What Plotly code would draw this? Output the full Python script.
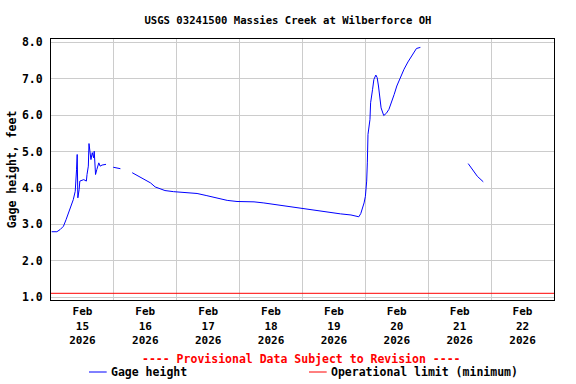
import plotly.graph_objects as go

# ---- data ----
times = [
    "2026-02-15 00:15", "2026-02-15 02:15", "2026-02-15 03:30", "2026-02-15 04:45",
    "2026-02-15 05:45", "2026-02-15 07:15", "2026-02-15 08:30", "2026-02-15 09:15",
    "2026-02-15 09:30", "2026-02-15 09:45", "2026-02-15 10:00", "2026-02-15 10:15",
    "2026-02-15 10:45", "2026-02-15 11:00", "2026-02-15 12:30", "2026-02-15 13:30",
    "2026-02-15 13:45", "2026-02-15 14:15", "2026-02-15 14:30", "2026-02-15 14:45",
    "2026-02-15 15:15", "2026-02-15 15:45", "2026-02-15 16:15", "2026-02-15 16:30",
    "2026-02-15 17:00", "2026-02-15 17:30", "2026-02-15 18:15", "2026-02-15 18:45",
    "2026-02-15 19:30", "2026-02-15 21:00", "2026-02-15 22:00",
    "2026-02-15 23:45", "2026-02-16 01:00", "2026-02-16 02:30", "2026-02-16 04:00",
    "2026-02-16 07:00", "2026-02-16 11:15", "2026-02-16 14:00", "2026-02-16 15:45",
    "2026-02-16 17:45", "2026-02-16 19:30", "2026-02-16 22:45", "2026-02-17 04:30",
    "2026-02-17 07:45", "2026-02-17 11:30", "2026-02-17 15:30", "2026-02-17 19:15",
    "2026-02-17 23:00", "2026-02-18 05:30", "2026-02-18 09:15", "2026-02-18 13:00",
    "2026-02-18 18:15", "2026-02-18 23:15", "2026-02-19 03:00", "2026-02-19 09:30",
    "2026-02-19 14:30", "2026-02-19 18:30", "2026-02-19 20:45", "2026-02-19 21:30",
    "2026-02-19 22:15", "2026-02-19 22:45", "2026-02-19 23:30", "2026-02-20 00:00",
    "2026-02-20 00:30", "2026-02-20 00:45", "2026-02-20 01:00", "2026-02-20 01:45",
    "2026-02-20 02:00", "2026-02-20 02:45", "2026-02-20 03:15", "2026-02-20 04:00",
    "2026-02-20 04:30", "2026-02-20 05:00", "2026-02-20 05:30", "2026-02-20 06:00",
    "2026-02-20 07:00", "2026-02-20 08:00", "2026-02-20 09:00", "2026-02-20 10:00",
    "2026-02-20 11:00", "2026-02-20 12:00", "2026-02-20 13:15", "2026-02-20 14:45",
    "2026-02-20 16:15", "2026-02-20 18:00", "2026-02-20 19:30", "2026-02-20 21:00",
    "2026-02-21 06:00",
    "2026-02-21 15:15", "2026-02-21 16:45", "2026-02-21 18:45", "2026-02-21 21:00",
]
gage_height = [
    2.80, 2.80, 2.86, 2.95,
    3.13, 3.41, 3.68, 3.91,
    4.14, 4.50, 4.92, 3.73,
    3.96, 4.19, 4.23, 4.19,
    4.37, 4.60, 5.22, 5.10,
    4.78, 4.97, 4.83, 5.01,
    4.37, 4.51, 4.69, 4.60,
    4.63, 4.65, None,
    4.57, 4.55, 4.53, None,
    4.42, 4.25, 4.14, 4.03,
    3.98, 3.93, 3.90, 3.88,
    3.85, 3.79, 3.72, 3.66,
    3.63, 3.62, 3.59, 3.55,
    3.50, 3.45, 3.40, 3.34,
    3.29, 3.26, 3.22, 3.21,
    3.30, 3.41, 3.59, 3.77,
    4.19, 4.69, 5.47, 5.88,
    6.34, 6.71, 6.98, 7.10,
    7.03, 6.80, 6.52, 6.20,
    5.99, 6.05, 6.16, 6.34,
    6.57, 6.80, 7.03, 7.26,
    7.46, 7.67, 7.83, 7.86,
    None,
    4.67, 4.51, 4.32, 4.17,
]
operational_limit = 1.11
x_range = ["2026-02-15 00:00", "2026-02-23 00:00"]
y_range = [0.926, 8.09]
tick_days = ["2026-02-15 12:00", "2026-02-16 12:00", "2026-02-17 12:00", "2026-02-18 12:00",
             "2026-02-19 12:00", "2026-02-20 12:00", "2026-02-21 12:00", "2026-02-22 12:00"]
tick_labels = ["Feb<br>15<br>2026", "Feb<br>16<br>2026", "Feb<br>17<br>2026", "Feb<br>18<br>2026",
               "Feb<br>19<br>2026", "Feb<br>20<br>2026", "Feb<br>21<br>2026", "Feb<br>22<br>2026"]
title_text = "USGS 03241500 Massies Creek at Wilberforce OH"
series_names = ["Gage height", "Operational limit (minimum)"]

# ---- layout constants (pixels) ----
W, H = 576, 384
L, R, T, B = 51, 22, 39, 84
PW, PH = W - L - R, H - T - B
FONT = "DejaVu Sans Mono"


def px(xp):
    return (xp - L) / PW


def py(yp):
    return (H - B - yp) / PH


fig = go.Figure()
fig.add_trace(go.Scatter(x=times, y=gage_height, mode="lines", name=series_names[0],
                         line=dict(color="#0000ff", width=1), connectgaps=False, showlegend=False))
fig.add_trace(go.Scatter(x=x_range, y=[operational_limit, operational_limit], mode="lines",
                         name=series_names[1], line=dict(color="#ff0000", width=1), showlegend=False))

axis_font = dict(family=FONT, size=11.5, color="black", weight="bold")
xtick_font = dict(family=FONT, size=11, color="black", weight="bold")

fig.update_layout(
    width=W, height=H,
    margin=dict(l=L, r=R, t=T, b=B),
    paper_bgcolor="white", plot_bgcolor="white",
    font=axis_font,
    title=dict(text=title_text, x=0.5, xref="container", xanchor="center", y=1 - 20 / H, yanchor="middle",
               font=dict(family=FONT, size=10.6, color="black", weight="bold")),
    xaxis=dict(type="date", range=x_range, tickmode="array", tickvals=tick_days, ticktext=tick_labels,
               automargin=False,
               showgrid=False, showline=True, linecolor="black", linewidth=1, mirror=True,
               ticks="outside", ticklen=1, tickcolor="rgba(0,0,0,0)", tickfont=xtick_font, zeroline=False,
               minor=dict(tick0="2026-02-15", dtick=86400000, showgrid=True, gridcolor="#cccccc",
                          gridwidth=1, ticks="")),
    yaxis=dict(range=y_range, tick0=0, dtick=1, tickformat=".1f", showgrid=True, gridcolor="#cccccc",
               automargin=False,
               gridwidth=1, showline=True, linecolor="black", linewidth=1, mirror=True, zeroline=False,
               ticks="outside", ticklen=5, tickcolor="rgba(0,0,0,0)", tickfont=axis_font,
               title=dict(text="Gage height, feet", font=axis_font, standoff=2)),
)

# provisional note
fig.add_annotation(text="---- Provisional Data Subject to Revision ----", xref="paper", yref="paper",
                   x=px(301), y=py(359), xanchor="center", yanchor="middle", showarrow=False,
                   font=dict(family=FONT, size=11.5, color="#ff0000", weight="bold"))

# legend (manual)
legend_items = [(89, 106.7, 109, "#0000ff", series_names[0]),
                (309, 326.7, 329, "#ff0000", series_names[1])]
for x0, x1, xt, col, name in legend_items:
    fig.add_shape(type="line", xref="paper", yref="paper", x0=px(x0), x1=px(x1), y0=py(372), y1=py(372),
                  line=dict(color=col, width=1))
    fig.add_annotation(text=name, xref="paper", yref="paper", x=px(xt), y=py(372), xanchor="left",
                       yanchor="middle", showarrow=False, font=axis_font)

fig.write_html("out.html", config={"displayModeBar": False},
               post_script="document.body.style.margin='0';")
